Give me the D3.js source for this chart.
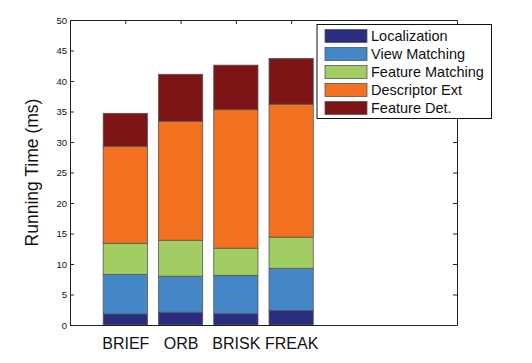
<!DOCTYPE html>
<html>
<head>
<meta charset="utf-8">
<script src="https://cdn.jsdelivr.net/npm/d3@7"></script>
<style>
  body { margin: 0; background: #fff; }
  text { font-family: "Liberation Sans", Arial, Helvetica, sans-serif; }
</style>
</head>
<body>
<div id="chart"></div>
<script>
// data
var methods = ["BRIEF", "ORB", "BRISK", "FREAK"];
var stages = ["Localization", "View Matching", "Feature Matching", "Descriptor Ext", "Feature Det."];
var localization   = [1.8, 2.1, 1.85, 2.4];
var viewMatching   = [6.5, 5.9, 6.3, 6.9];
var featMatching   = [5.1, 5.9, 4.45, 5.1];
var descriptorExt  = [15.9, 19.5, 22.7, 21.8];
var featureDet     = [5.4, 7.7, 7.3, 7.5];
var yTicks = [0, 5, 10, 15, 20, 25, 30, 35, 40, 45, 50];

var colors = ["#2a2e7f", "#4586c6", "#a2cd62", "#f37221", "#7d1517"];

var width = 532, height = 363;
// plot box (window.top is reserved, so use other names)
var pLeft = 70, pRight = 457, pTop = 20, pBottom = 325;

var svg = d3.select("#chart").append("svg")
  .attr("width", width)
  .attr("height", height);

// scales
var x = d3.scaleLinear().domain([0, 7]).range([pLeft, pRight]);
var y = d3.scaleLinear().domain([0, 50]).range([pBottom, pTop]);
var barW = x(0.8) - x(0);

// table for stacking
var table = methods.map(function(m, i) {
  return {
    method: m, pos: i + 1,
    "Localization": localization[i],
    "View Matching": viewMatching[i],
    "Feature Matching": featMatching[i],
    "Descriptor Ext": descriptorExt[i],
    "Feature Det.": featureDet[i]
  };
});
var series = d3.stack().keys(stages)(table);

// axes frame
var axisColor = "#222";
function styleAxis(g) {
  g.select(".domain").attr("stroke", axisColor);
  g.selectAll(".tick line").attr("stroke", axisColor);
}

svg.append("g")
  .attr("transform", "translate(" + pLeft + ",0)")
  .call(d3.axisLeft(y).tickValues(yTicks).tickSize(-4).tickSizeOuter(0).tickPadding(3))
  .call(styleAxis)
  .selectAll("text").attr("font-size", "9.5px").attr("fill", "#111");

svg.append("g")
  .attr("transform", "translate(" + pRight + ",0)")
  .call(d3.axisRight(y).tickValues(yTicks).tickSize(-4).tickSizeOuter(0).tickFormat(""))
  .call(styleAxis);

svg.append("g")
  .attr("transform", "translate(0," + pTop + ")")
  .call(d3.axisTop(x).tickValues([1, 2, 3, 4]).tickSize(-4).tickSizeOuter(0).tickFormat(""))
  .call(styleAxis);

svg.append("g")
  .attr("transform", "translate(0," + pBottom + ")")
  .call(d3.axisBottom(x).tickValues([1, 2, 3, 4]).tickSize(-4).tickSizeOuter(0).tickPadding(13)
    .tickFormat(function(d) { return methods[d - 1]; }))
  .call(styleAxis)
  .selectAll("text").attr("font-size", "16px").attr("fill", "#111");

// bars
svg.append("g").selectAll("g")
  .data(series)
  .enter().append("g")
  .attr("fill", function(d, i) { return colors[i]; })
  .selectAll("rect")
  .data(function(d) { return d; })
  .enter().append("rect")
  .attr("x", function(d) { return x(d.data.pos) - barW / 2; })
  .attr("y", function(d) { return y(d[1]); })
  .attr("width", barW)
  .attr("height", function(d) { return y(d[0]) - y(d[1]); })
  .attr("stroke", "#555")
  .attr("stroke-width", 0.8);

// redraw bottom domain over bars
svg.append("line")
  .attr("x1", pLeft).attr("x2", pRight)
  .attr("y1", pBottom + 0.5).attr("y2", pBottom + 0.5)
  .attr("stroke", axisColor);

// legend
var lg = svg.append("g").attr("transform", "translate(317,24.5)");
lg.append("rect")
  .attr("width", 174.5).attr("height", 94)
  .attr("fill", "#fff").attr("stroke", "#111").attr("stroke-width", 1);

var item = lg.selectAll("g.item")
  .data(stages)
  .enter().append("g")
  .attr("class", "item")
  .attr("transform", function(d, i) { return "translate(8," + (5 + i * 18) + ")"; });

item.append("rect")
  .attr("width", 42).attr("height", 13)
  .attr("fill", function(d, i) { return colors[i]; })
  .attr("stroke", "#555").attr("stroke-width", 0.8);

item.append("text")
  .attr("x", 46).attr("y", 11.5)
  .attr("font-size", "14.5px")
  .attr("fill", "#111")
  .text(function(d) { return d; });

// y label
svg.append("text")
  .attr("transform", "translate(38," + ((pTop + pBottom) / 2) + ") rotate(-90)")
  .attr("text-anchor", "middle")
  .attr("font-size", "17.5px")
  .attr("fill", "#111")
  .text("Running Time (ms)");
</script>
</body>
</html>
